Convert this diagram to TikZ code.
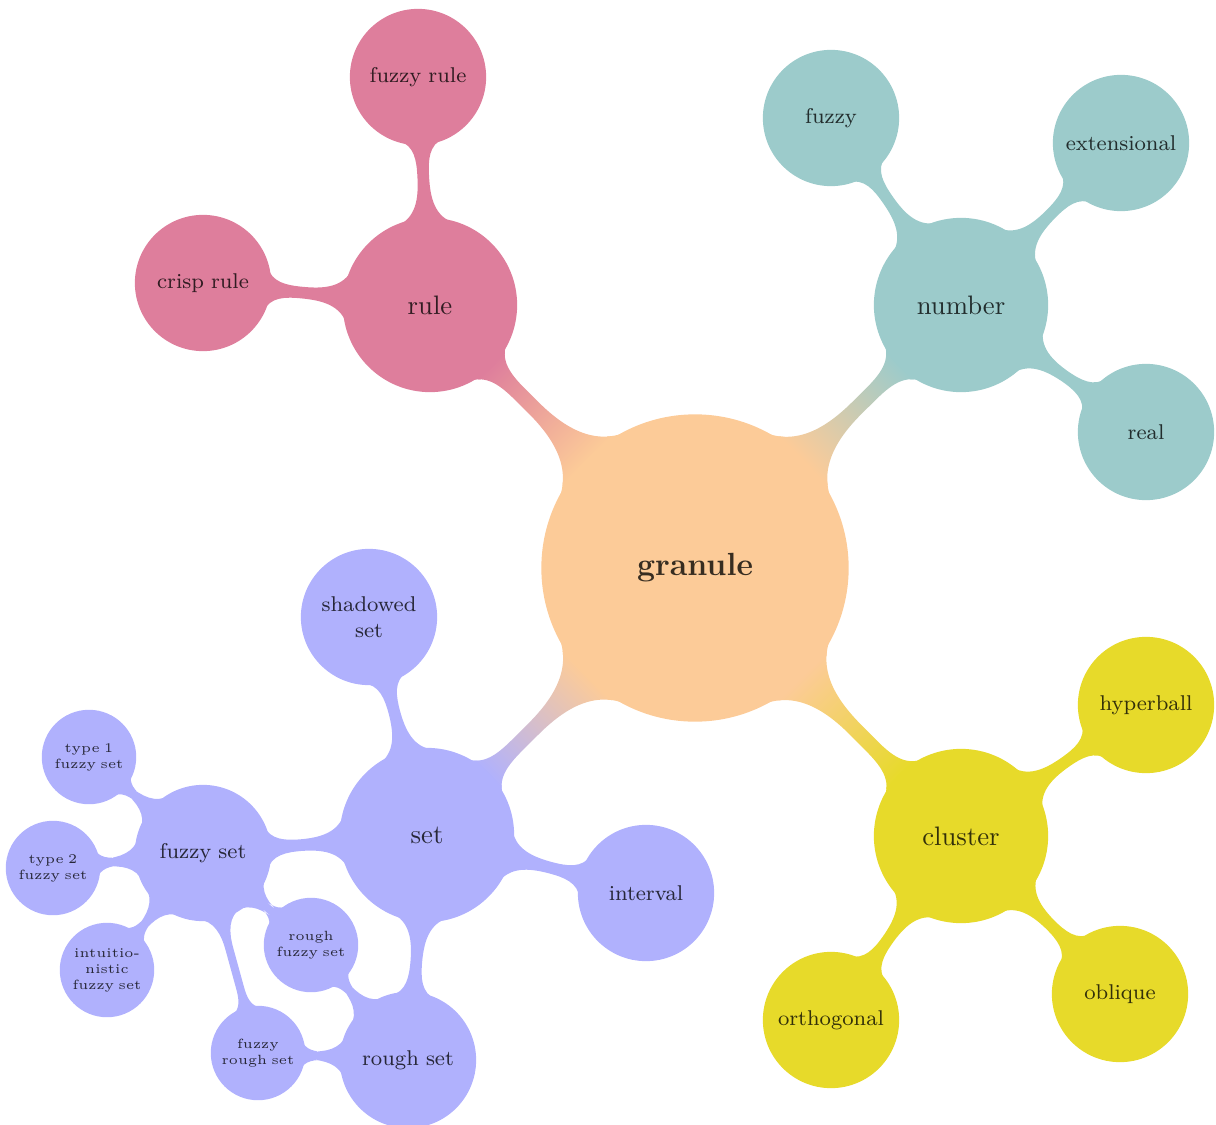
\documentclass[tikz,border=0pt]{standalone}
\usetikzlibrary{mindmap}
\pgfdeclarelayer{background}
\pgfsetlayers{background,main}
\definecolor{cpeach}{HTML}{FCCB98}
\definecolor{cpink}{HTML}{DE7E9C}
\definecolor{cteal}{HTML}{9CCBCB}
\definecolor{clav}{HTML}{B0B1FD}
\definecolor{cyel}{HTML}{E7DA2A}
\begin{document}
\begin{tikzpicture}[x=0.013158cm,y=-0.013158cm,mindmap,
  cc/.style={concept color=#1, text=#1!22!black},
  cnode/.style={concept, circle, inner sep=0pt, align=center},
  lvlroot/.style={cnode, minimum size=4cm, text width=3.5cm, font=\large\bfseries},
  lvlone/.style={cnode, minimum size=2.25cm, text width=2cm, font=\normalsize},
  lvltwo/.style={cnode, minimum size=1.75cm, text width=1.5cm, font=\footnotesize},
  lvlthree/.style={cnode, minimum size=1.2cm, text width=1.05cm, font=\tiny}]
\useasboundingbox (0,0) rectangle (1216,1124);
% root
\node[lvlroot, cc=cpeach] (granule) at (695,568) {granule};
% rule branch
\node[lvlone, cc=cpink] (rule) at (430,305) {rule};
\node[lvltwo, cc=cpink] (fuzzyrule) at (418,77) {fuzzy rule};
\node[lvltwo, cc=cpink] (crisprule) at (203,283) {crisp rule};
% number branch
\node[lvlone, cc=cteal] (number) at (961,305) {number};
\node[lvltwo, cc=cteal] (fuzzynum) at (831,118) {fuzzy};
\node[lvltwo, cc=cteal] (extensional) at (1121,143) {extensional};
\node[lvltwo, cc=cteal] (real) at (1146,432) {real};
% cluster branch
\node[lvlone, cc=cyel] (cluster) at (961,836) {cluster};
\node[lvltwo, cc=cyel] (hyperball) at (1146,705) {hyperball};
\node[lvltwo, cc=cyel] (oblique) at (1120,994) {oblique};
\node[lvltwo, cc=cyel] (orthogonal) at (831,1020) {orthogonal};
% set branch
\node[lvlone, cc=clav] (set) at (427,835) {set};
\node[lvltwo, cc=clav] (shadowed) at (369,617) {shadowed\\set};
\node[lvltwo, cc=clav] (interval) at (646,893) {interval};
\node[lvltwo, cc=clav] (fuzzyset) at (203,853) {fuzzy set};
\node[lvltwo, cc=clav] (roughset) at (408,1060) {rough set};
\node[lvlthree, cc=clav] (typeone) at (89,757) {type 1\\fuzzy set};
\node[lvlthree, cc=clav] (typetwo) at (53,868) {type 2\\fuzzy set};
\node[lvlthree, cc=clav] (intuit) at (107,970) {intuitio-\\nistic\\fuzzy set};
\node[lvlthree, cc=clav] (roughfuzzy) at (311,945) {rough\\fuzzy set};
\node[lvlthree, cc=clav] (fuzzyrough) at (258,1053) {fuzzy\\rough set};
\begin{pgfonlayer}{background}
\path (granule) to[circle connection bar switch color=from (cpeach) to (cpink)] (rule);
\path (granule) to[circle connection bar switch color=from (cpeach) to (cteal)] (number);
\path (granule) to[circle connection bar switch color=from (cpeach) to (cyel)] (cluster);
\path (granule) to[circle connection bar switch color=from (cpeach) to (clav)] (set);
\path[concept color=cpink] (rule) to[circle connection bar] (fuzzyrule);
\path[concept color=cpink] (rule) to[circle connection bar] (crisprule);
\path[concept color=cteal] (number) to[circle connection bar] (fuzzynum);
\path[concept color=cteal] (number) to[circle connection bar] (extensional);
\path[concept color=cteal] (number) to[circle connection bar] (real);
\path[concept color=cyel] (cluster) to[circle connection bar] (hyperball);
\path[concept color=cyel] (cluster) to[circle connection bar] (oblique);
\path[concept color=cyel] (cluster) to[circle connection bar] (orthogonal);
\path[concept color=clav] (set) to[circle connection bar] (shadowed);
\path[concept color=clav] (set) to[circle connection bar] (interval);
\path[concept color=clav] (set) to[circle connection bar] (fuzzyset);
\path[concept color=clav] (set) to[circle connection bar] (roughset);
\path[concept color=clav] (fuzzyset) to[circle connection bar] (typeone);
\path[concept color=clav] (fuzzyset) to[circle connection bar] (typetwo);
\path[concept color=clav] (fuzzyset) to[circle connection bar] (intuit);
\path[concept color=clav] (fuzzyset) to[circle connection bar] (roughfuzzy);
\path[concept color=clav] (fuzzyset) to[circle connection bar] (fuzzyrough);
\path[concept color=clav] (roughset) to[circle connection bar] (roughfuzzy);
\path[concept color=clav] (roughset) to[circle connection bar] (fuzzyrough);
\end{pgfonlayer}
\end{tikzpicture}
\end{document}
